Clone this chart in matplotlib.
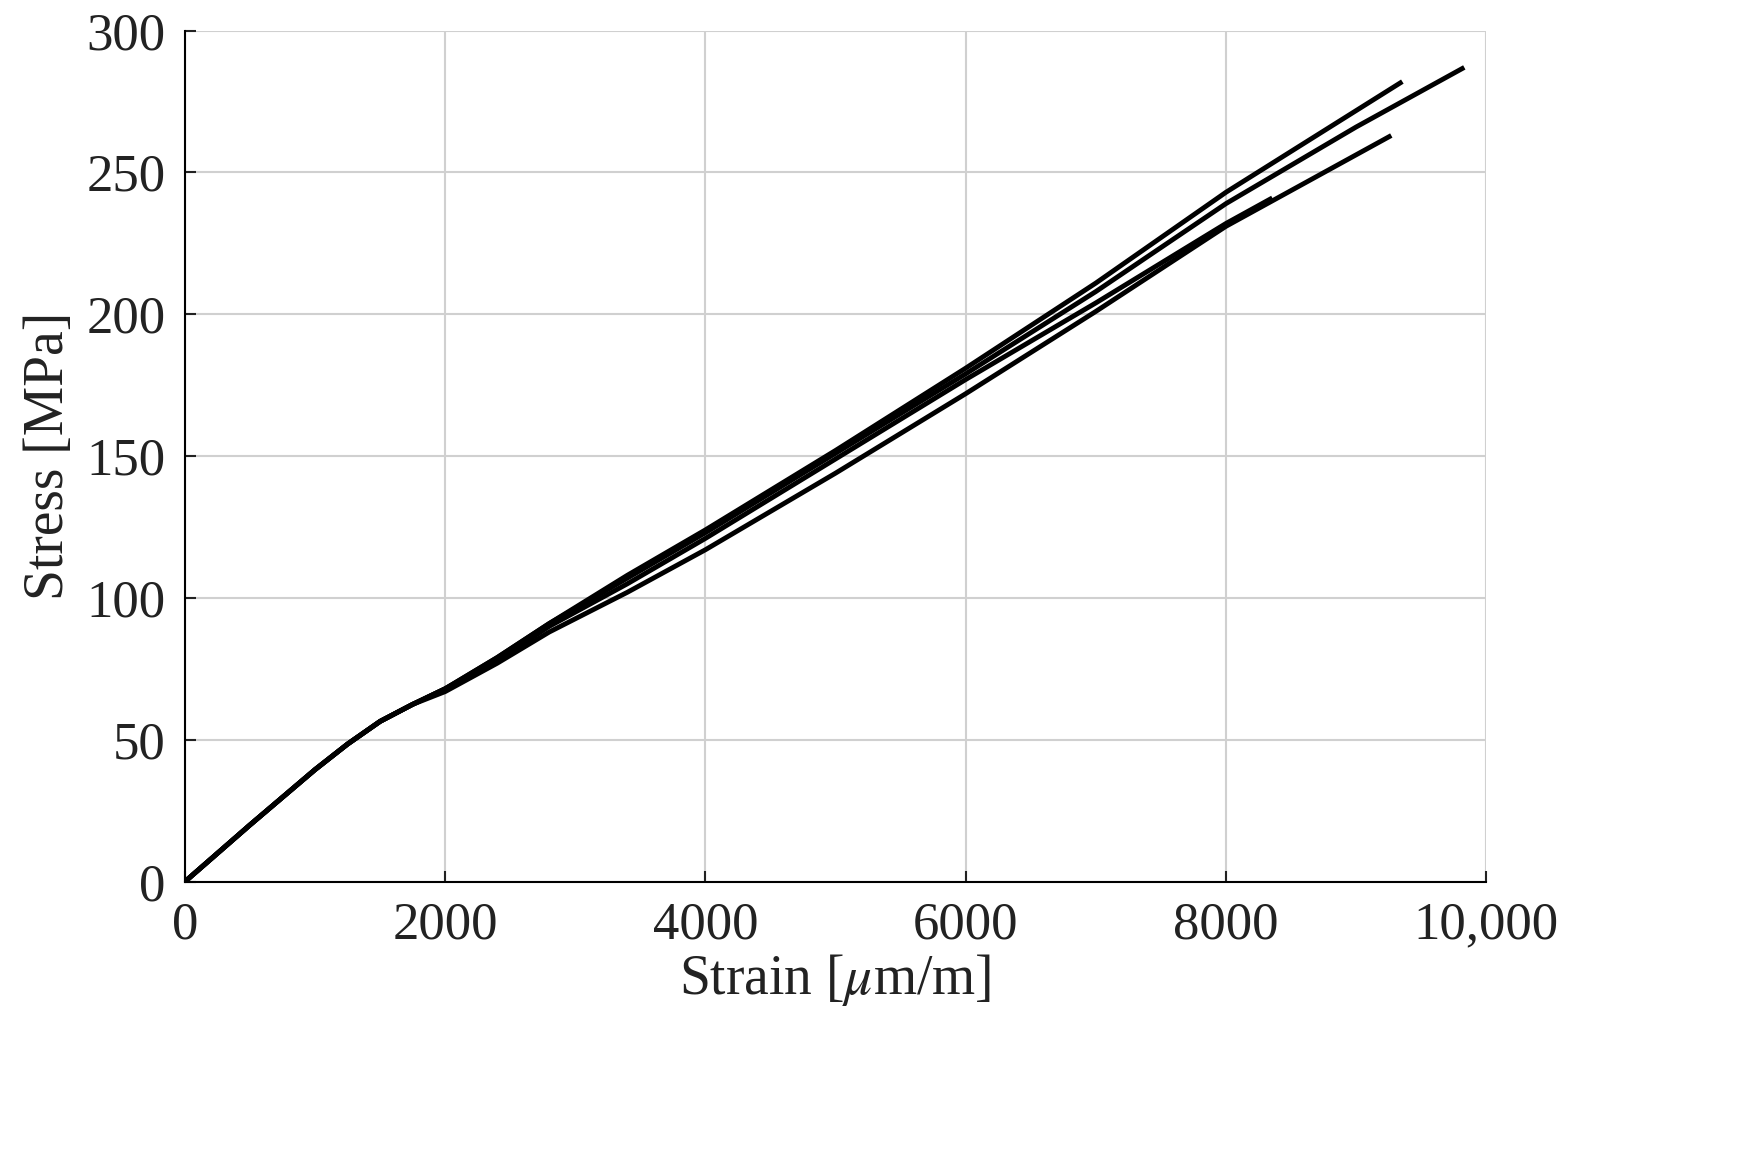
import matplotlib
matplotlib.use("Agg")
import matplotlib.pyplot as plt

plt.rcParams['font.family'] = ['Liberation Serif', 'DejaVu Serif']
plt.rcParams['mathtext.fontset'] = 'stix'

common_x = [0, 500, 1000, 1250, 1500, 1750, 2000, 2400, 2800]
common_y = [0, 20, 39.5, 48.5, 56.5, 62.5, 68, 79, 91]
curve_a_x = common_x + [3400, 4000, 5000, 6000, 7000, 8000, 9355]
curve_a_y = common_y + [108, 124, 152, 181, 211, 243, 282]
curve_b_x = common_x + [3400, 4000, 5000, 6000, 7000, 8000, 9000, 9831]
curve_b_y = common_y + [107, 123, 151, 179, 208, 239, 266, 287]
curve_c_x = common_x + [3400, 4000, 5000, 6000, 7000, 8000, 9270]
curve_c_y = [0, 20, 39.5, 48.5, 56.5, 62.5, 67, 77, 88, 102, 117, 144, 172, 201, 231, 263]
curve_d_x = common_x + [3400, 4000, 5000, 6000, 7000, 8000, 8356]
curve_d_y = [0, 20, 39.5, 48.5, 56.5, 62.5, 68, 78, 90, 105, 121, 149, 177, 204, 232, 241]

fig = plt.figure(figsize=(17.61, 11.74), dpi=100)
ax = fig.add_axes([0.105, 0.249, 0.739, 0.725])
for xs, ys in [(curve_a_x, curve_a_y), (curve_b_x, curve_b_y),
               (curve_c_x, curve_c_y), (curve_d_x, curve_d_y)]:
    ax.plot(xs, ys, color='black', lw=3.5, solid_capstyle='butt', solid_joinstyle='round')

ax.set_xlim(0, 10000)
ax.set_ylim(0, 300)
ax.set_xticks([0, 2000, 4000, 6000, 8000, 10000])
ax.set_xticklabels(['0', '2000', '4000', '6000', '8000', '10,000'])
ax.set_yticks(range(0, 301, 50))
ax.grid(True, color='#d0d0d0', lw=1.5)
for s in ['top', 'right']:
    ax.spines[s].set_visible(False)
for s in ['left', 'bottom']:
    ax.spines[s].set_linewidth(1.5)
ax.tick_params(direction='in', length=8, width=1.5, labelsize=38, colors='#222222', pad=14)
ax.set_xlabel(r'Strain [$\mu$m/m]', fontsize=40, color='#222222', labelpad=2)
ax.set_ylabel('Stress [MPa]', fontsize=40, color='#222222', labelpad=8)
fig.savefig('out.png', dpi=100)
